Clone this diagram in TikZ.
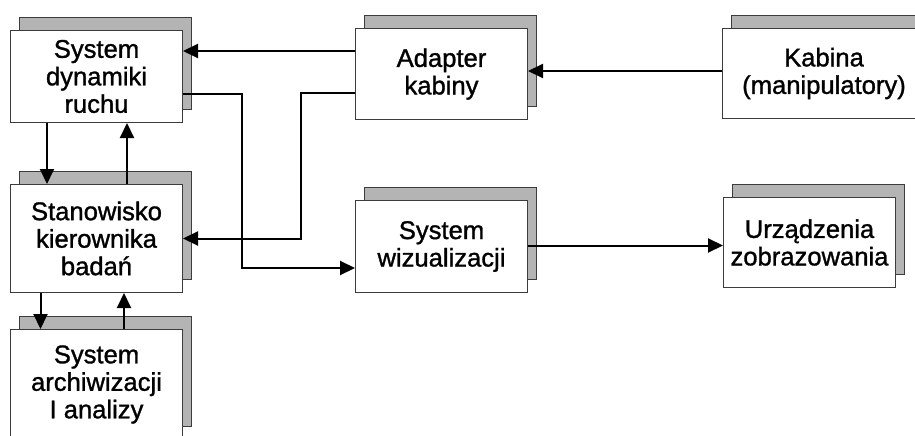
\documentclass[tikz,border=0pt]{standalone}
\usepackage{fontspec}
\setmainfont{Liberation Sans}[UprightFeatures={FakeBold=1.2}]
\usetikzlibrary{arrows.meta}
\definecolor{boxline}{HTML}{3C3C3C}
\definecolor{shadowgray}{HTML}{B4B4B4}
% block with a grey backing sheet offset up and to the right
\newcommand\blockbox[6]{%
  \draw[backing] (#2+9,#3-12.5) rectangle +(#4,#5);
  \node[block, minimum width=#4pt, minimum height=#5pt] (#1) at (#2,#3) {#6};
}
\begin{document}
\begin{tikzpicture}[x=1pt,y=-1pt,
  block/.style={draw=boxline, line width=1pt, fill=white, anchor=north west,
    inner sep=0pt, align=center, font=\fontsize{25.6}{27.5}\selectfont},
  backing/.style={draw=boxline, line width=1pt, fill=shadowgray},
  link/.style={line width=2pt, draw=black},
  arr/.style={link, -{Triangle[length=15pt,width=14pt]}}]
\useasboundingbox (0,0) rectangle (915,436);

\blockbox{sdr}{10}{30}{172}{92}{System\\dynamiki\\ruchu}
\blockbox{stan}{10}{184}{172}{108}{Stanowisko\\kierownika\\badań}
\blockbox{arc}{10}{329}{172}{110}{System\\archiwizacji\\I analizy}
\blockbox{ad}{355}{28}{172}{91}{Adapter\\kabiny}
\blockbox{kab}{722}{28}{203}{90}{Kabina\\(manipulatory)}
\blockbox{sw}{355}{200}{172}{92}{System\\wizualizacji}
\blockbox{urz}{723}{197}{172}{90}{Urządzenia\\zobrazowania}

% connections
\draw[arr] (ad.west |- 0,51) -- (sdr.east |- 0,51);
\draw[arr] (kab.west |- 0,71) -- (ad.east |- 0,71);
\draw[arr] (sdr.east |- 0,93.5) -| (242,268) -- (sw.west |- 0,268);
\draw[arr] (ad.west |- 0,93) -| (301,238.5) -- (stan.east |- 0,238.5);
\draw[arr] (sw.east |- 0,245.5) -- (urz.west |- 0,245.5);
\draw[arr] (sdr.south -| 47,0) -- (stan.north -| 47,0);
\draw[arr] (stan.north -| 127,0) -- (sdr.south -| 127,0);
\draw[arr] (stan.south -| 40.5,0) -- (arc.north -| 40.5,0);
\draw[arr] (arc.north -| 124,0) -- (stan.south -| 124,0);
\end{tikzpicture}
\end{document}
